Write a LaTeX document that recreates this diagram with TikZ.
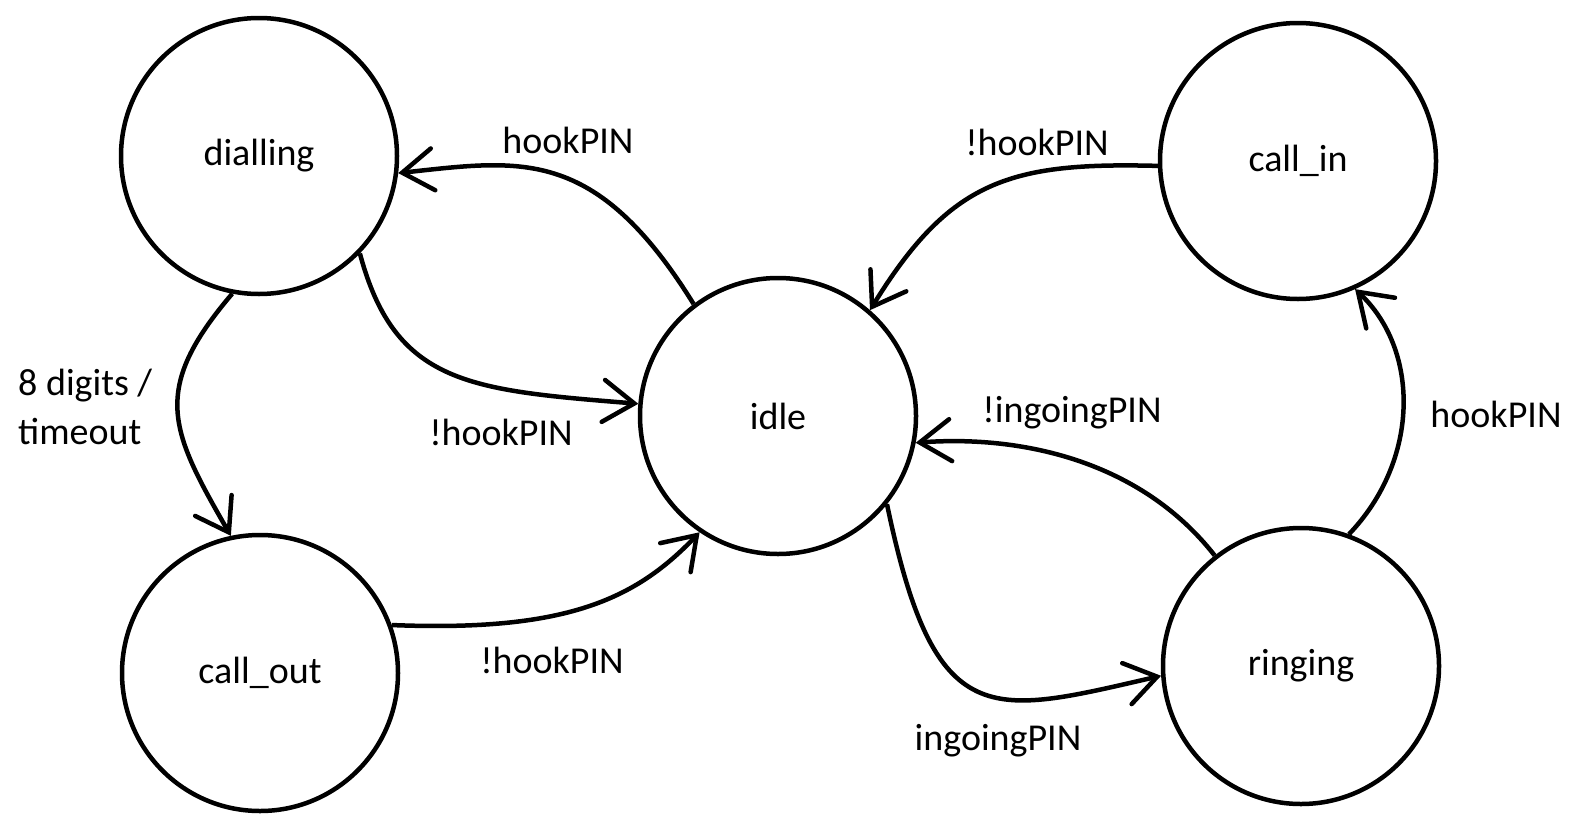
\documentclass[tikz,border=0pt]{standalone}
\usepackage{fontspec}
\setmainfont{Carlito}
\usetikzlibrary{arrows.meta}
\begin{document}
\begin{tikzpicture}[x=1pt,y=-1pt,
  lab/.style={font=\fontsize{38}{49}\selectfont,inner sep=0pt},
  state/.style={circle,draw,line width=4.5pt,minimum size=276pt,inner sep=0pt,lab},
  edge/.style={line width=4.5pt,-{Straight Barb[length=31pt,width=42pt,line cap=round]}}]
\useasboundingbox (0,0) rectangle (1581,835);
\node[state] (dialling) at (259,156) {dialling};
\node[state] (call_out) at (260,673) {call\_out};
\node[state] (idle) at (778,416) {idle};
\node[state] (call_in) at (1298,161) {call\_in};
\node[state] (ringing) at (1301,666) {ringing};

\draw[edge] (idle.127) .. controls (595,145) and (520,160) .. (dialling.-7);
\draw[edge] (dialling.-44) .. controls (395,385) and (470,390) .. (idle.175);
\draw[edge] (dialling.-101) .. controls (150,390) and (170,430) .. (call_out.102);
\draw[edge] (call_out.20) .. controls (565,632) and (635,600) .. (idle.236);
\draw[edge] (call_in.182) .. controls (1010,162) and (950,180) .. (idle.49);
\draw[edge] (ringing.128) .. controls (1140,460) and (1020,435) .. (idle.-11);
\draw[edge] (idle.-39) .. controls (935,735) and (990,715) .. (ringing.184);
\draw[edge] (ringing.70) .. controls (1420,460) and (1420,350) .. (call_in.-66);

\node[lab] (l1) at (568,140) {hookPIN};
\node[lab] (l2) at (501,432) {!hookPIN};
\node[lab,align=left,anchor=west] (l3) at (18,407) {8 digits /\\timeout};
\node[lab] (l4) at (552,660) {!hookPIN};
\node[lab] (l5) at (1037,142) {!hookPIN};
\node[lab] (l6) at (1072,413) {!ingoingPIN};
\node[lab] (l7) at (998,741) {ingoingPIN};
\node[lab] (l8) at (1496,414) {hookPIN};
\end{tikzpicture}
\end{document}
